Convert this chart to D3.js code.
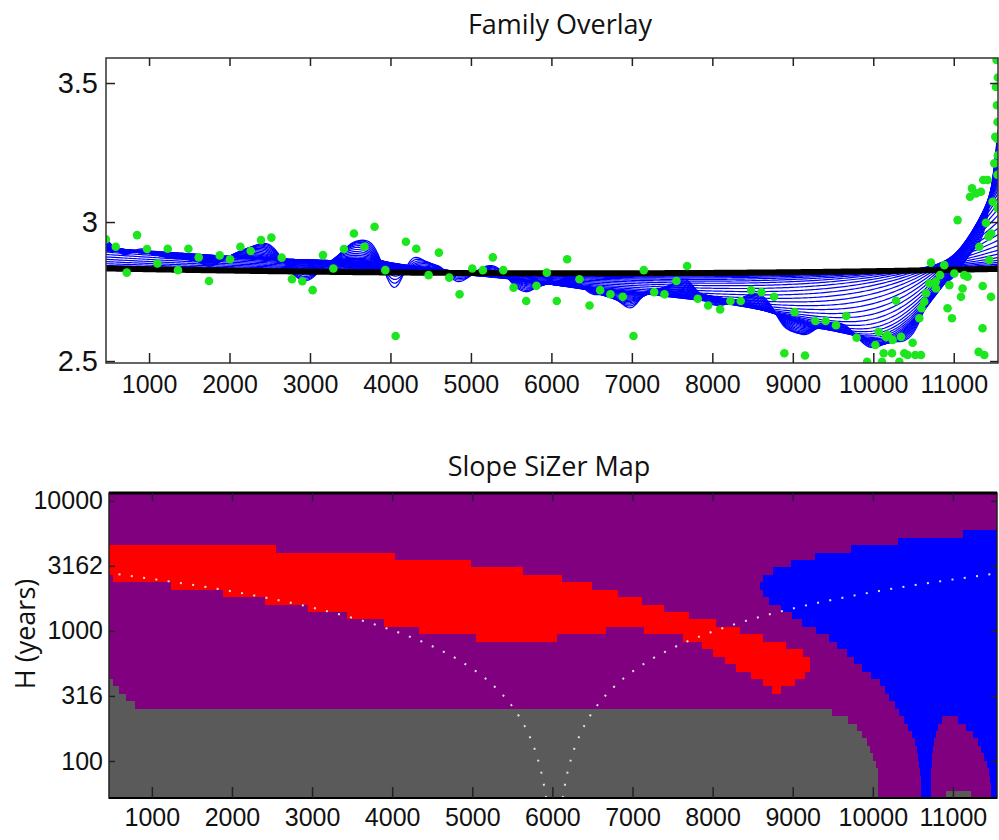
<!DOCTYPE html>
<html>
<head>
<meta charset="utf-8">
<script src="https://cdn.jsdelivr.net/npm/d3@7"></script>
<style>
body{margin:0;background:#fff;}
svg{display:block;font-family:"Open Sans","Noto Sans",sans-serif;}
</style>
</head>
<body>
<svg width="999" height="840"></svg>
<script>
// ---- data ----
const yearX=[463,586,723,851,975,1104,1232,1360,1489,1617,1745,1878,2006,2135,2263,2391,2520,2648,2776,2905,
 3033,3161,3290,3422,3546,3675,3803,3936,4064,4192,4321,4474,4602,4731,4859,5017,5148,5272,5402,5530,
 5687,5815,5943,6067,6196,6349,6474,6606,6734,6887,7020,7148,7277,7405,7554,7687,7819,7948,8097,8225,
 8353,8482,8610,8767,8895,9023,9152,9280,9408,9537,9665,9793,9923,10026,10067,10109,10129,10158,10178,10233,
 10241,10283,10324,10345,10386,10427,10489,10523,10572,10593,10599,10634,10655,10696,10717,10776,10779,10829,10882,10923,
 10945,10978,11007,11048,11090,11110,11131,11172,11202,11227,11276,11309,11317,11338,11358,11360,11367,11380,11400,11421,
 11433,11442,11463,11465,11483,11504,11516,11525,11532,11537,11540,11543,11546,11548,11544,11549];
const levelY=[2.938,2.911,2.818,2.953,2.903,2.851,2.904,2.827,2.904,2.873,2.788,2.880,2.866,2.911,2.896,2.935,2.944,2.872,2.794,2.787,
 2.755,2.881,2.833,2.903,2.959,2.911,2.983,2.827,2.590,2.929,2.904,2.809,2.890,2.800,2.740,2.833,2.827,2.873,2.827,2.764,
 2.716,2.771,2.818,2.716,2.866,2.794,2.700,2.755,2.740,2.731,2.590,2.827,2.748,2.740,2.788,2.842,2.724,2.700,2.686,2.716,
 2.716,2.755,2.748,2.731,2.528,2.676,2.520,2.644,2.644,2.629,2.662,2.584,2.497,2.558,2.605,2.497,2.528,2.587,2.594,2.528,
 2.576,2.717,2.497,2.587,2.528,2.522,2.566,2.522,2.654,2.522,2.690,2.713,2.744,2.779,2.854,2.785,2.761,2.809,2.845,2.690,
 2.773,2.654,2.815,3.007,2.731,2.761,2.809,2.803,3.091,3.121,3.103,2.533,2.911,3.109,2.618,2.770,3.151,2.522,2.997,3.151,
 2.947,2.863,2.731,2.959,3.073,3.211,3.307,3.486,3.583,3.42,3.30,3.17,3.05,3.52,3.36,3.24];

const xTicks=[1000,2000,3000,4000,5000,6000,7000,8000,9000,10000,11000];
const yTicks=[2.5,3,3.5];
const hTicks=[100,316.23,1000,3162.28,10000];
const hTickLabels=["100","316","1000","3162","10000"];

// bandwidth grids (smallest / largest h and count)
const familyH=[125,10750], familyCount=41;
const mapH=[55.5,10750], mapRows=41;

// SiZer map: [row (0 = largest h), from year, to year]
const redCells=[[7,465,2552],[8,465,4037],[9,465,4986],[10,465,5632],[11,517,6118],[12,1241,6497],
 [13,1886,6815],[14,2414,7117],[15,2948,7399],[16,3434,7701],[17,3900,8045],
 [18,4341,6671],[18,7146,8344],[19,5049,6056],[19,7629,8635],[20,7866,8920],[21,8011,9127],
 [22,8157,9218],[23,8294,9218],[24,8478,9156],[25,8635,9031],[26,8744,8856]];
const grayCells=[[25,465,521],[26,465,596],[27,465,679],[28,465,792],[29,465,9489],[30,465,9689],
 [31,465,9801],[32,465,9864],[33,465,9926],[34,465,9967],[35,465,10008],[36,465,10042],
 [37,465,10067],[38,465,10067],[39,465,10067],[40,465,10067],[40,10912,11228]];
const blueCells=[[5,11124,11550],[6,10308,11550],[7,9726,11550],[8,9272,11550],[9,8977,11550],
 [10,8748,11550],[11,8635,11550],[12,8594,11550],[13,8635,11550],[14,8706,11550],[15,8856,11550],
 [16,8990,11550],[17,9122,11550],[18,9289,11550],[19,9447,11550],[20,9552,11550],[21,9676,11550],
 [22,9759,11550],[23,9864,11550],[24,9976,11550],[25,10092,11550],[26,10154,11550],[27,10208,11550],
 [28,10279,11550],[29,10329,11550],
 [30,10392,10866],[30,11062,11550],[31,10445,10812],[31,11162,11550],[32,10488,10787],[32,11253,11550],
 [33,10529,10766],[33,11312,11550],[34,10550,10754],[34,11353,11550],[35,10566,10741],[35,11390,11550],
 [36,10579,10738],[36,11424,11550],[37,10590,10729],[37,11444,11550],[38,10598,10729],[38,11461,11550],
 [39,10598,10729],[39,11469,11550],[40,10598,10729],[40,11478,11550]];
const windowCentre=6025;

const svg=d3.select("svg");
const xDom=[465,11550];

// ---------- top panel ----------
const pA={l:106,r:998,t:58,b:363};
const x1=d3.scaleLinear().domain(xDom).range([pA.l,pA.r]);
const y1=d3.scaleLinear().domain([2.493,3.59]).range([pA.b,pA.t]);

svg.append("clipPath").attr("id","c1").append("rect")
  .attr("x",pA.l).attr("y",pA.t).attr("width",pA.r-pA.l).attr("height",pA.b-pA.t);

function smooth(x0,h){
  let s0=0,s1=0,s2=0,t0=0,t1=0;
  for(let i=0;i<yearX.length;i++){
    const d=yearX[i]-x0, w=Math.exp(-0.5*(d/h)*(d/h));
    s0+=w; s1+=w*d; s2+=w*d*d; t0+=w*levelY[i]; t1+=w*d*levelY[i];
  }
  const den=s0*s2-s1*s1;
  if(den<=1e-9*s0*s2) return t0/s0;
  return (s2*t0-s1*t1)/den;
}
const hs=d3.range(familyCount).map(i=>Math.exp(Math.log(familyH[0])+i*(Math.log(familyH[1])-Math.log(familyH[0]))/(familyCount-1)));
const grid=d3.range(0,401).map(i=>xDom[0]+i*(xDom[1]-xDom[0])/400);
const curves=hs.map(h=>grid.map(g=>[g,smooth(g,h)]));
const line=d3.line().x(d=>x1(d[0])).y(d=>y1(d[1]));

const g1=svg.append("g").attr("clip-path","url(#c1)");
g1.selectAll("path.fam").data(curves.slice(0,-1)).enter().append("path")
  .attr("class","fam").attr("d",line).attr("fill","none").attr("stroke","#0000ff").attr("stroke-width",1.2);
g1.append("path").attr("d",line(curves[curves.length-1])).attr("fill","none").attr("stroke","#000").attr("stroke-width",6);
g1.selectAll("circle").data(yearX).enter().append("circle")
  .attr("cx",d=>x1(d)).attr("cy",(d,i)=>y1(levelY[i])).attr("r",4.3).attr("fill","#1ee61e");

function frame(sel,s,col,w){
  sel.append("rect").attr("x",s.l).attr("y",s.t).attr("width",s.r-s.l).attr("height",s.b-s.t)
    .attr("fill","none").attr("stroke",col).attr("stroke-width",w);
}
function styleAxis(a,fs){
  a.select(".domain").remove();
  a.selectAll(".tick line").attr("stroke","#222").attr("stroke-width",1.5);
  a.selectAll("text").attr("fill","#111").style("font-size",fs+"px");
}

frame(svg,pA,"#333",1.5);
styleAxis(svg.append("g").attr("transform","translate(0,"+pA.b+")")
  .call(d3.axisBottom(x1).tickValues(xTicks).tickSize(-10).tickPadding(12).tickFormat(d3.format("d"))),25);
styleAxis(svg.append("g").attr("transform","translate(0,"+pA.t+")")
  .call(d3.axisTop(x1).tickValues(xTicks).tickSize(-8).tickFormat("")),25);
styleAxis(svg.append("g").attr("transform","translate("+pA.l+",0)")
  .call(d3.axisLeft(y1).tickValues(yTicks).tickSize(-9).tickPadding(8).tickFormat(d=>String(d))),29);
styleAxis(svg.append("g").attr("transform","translate("+pA.r+",0)")
  .call(d3.axisRight(y1).tickValues(yTicks).tickSize(-8).tickFormat("")),25);

svg.append("text").attr("x",560).attr("y",34).attr("text-anchor","middle")
  .style("font-size","27px").attr("fill","#111").text("Family Overlay");

// ---------- bottom panel ----------
const pB={l:109,r:997,t:493,b:798};
const x2=d3.scaleLinear().domain(xDom).range([pB.l,pB.r]);
const lstep=(Math.log10(mapH[1])-Math.log10(mapH[0]))/(mapRows-1);
const hEdge=k=>Math.pow(10,Math.log10(mapH[1])+lstep/2-k*lstep);
const y2=d3.scaleLog().domain([hEdge(mapRows),hEdge(0)]).range([pB.b,pB.t]);

svg.append("clipPath").attr("id","c2").append("rect")
  .attr("x",pB.l).attr("y",pB.t).attr("width",pB.r-pB.l).attr("height",pB.b-pB.t);
const g2=svg.append("g").attr("clip-path","url(#c2)").attr("shape-rendering","crispEdges");
g2.append("rect").attr("x",pB.l).attr("y",pB.t).attr("width",pB.r-pB.l).attr("height",pB.b-pB.t).attr("fill","#800080");

function cells(data,col){
  g2.append("g").selectAll("rect").data(data).enter().append("rect")
    .attr("x",d=>x2(d[1])).attr("width",d=>x2(d[2])-x2(d[1]))
    .attr("y",d=>y2(hEdge(d[0]))).attr("height",d=>y2(hEdge(d[0]+1))-y2(hEdge(d[0])))
    .attr("fill",col);
}
cells(grayCells,"#5a5a5a");
cells(redCells,"#ff0000");
cells(blueCells,"#0000ff");

// +/- 2h window guide
const hGuide=d3.range(0,301).map(i=>Math.pow(10,Math.log10(hEdge(mapRows))+i*(Math.log10(hEdge(0))-Math.log10(hEdge(mapRows)))/300));
const gLine=d3.line().x(d=>x2(d[0])).y(d=>y2(d[1]));
[-2,2].forEach(s=>{
  g2.append("path").attr("d",gLine(hGuide.map(h=>[windowCentre+s*h,h])))
    .attr("fill","none").attr("stroke","#e0e0e0").attr("stroke-width",2)
    .attr("stroke-dasharray","2,10.4").attr("shape-rendering","auto");
});

frame(svg,pB,"#222",1.5);
svg.append("line").attr("x1",pB.l).attr("x2",pB.r).attr("y1",pB.t).attr("y2",pB.t).attr("stroke","#000").attr("stroke-width",3);
svg.append("line").attr("x1",pB.l).attr("x2",pB.r).attr("y1",pB.b).attr("y2",pB.b).attr("stroke","#000").attr("stroke-width",2);
styleAxis(svg.append("g").attr("transform","translate(0,"+pB.b+")")
  .call(d3.axisBottom(x2).tickValues(xTicks).tickSize(-11).tickPadding(10).tickFormat(d3.format("d"))),25);
styleAxis(svg.append("g").attr("transform","translate(0,"+pB.t+")")
  .call(d3.axisTop(x2).tickValues(xTicks).tickSize(-8).tickFormat("")),25);
styleAxis(svg.append("g").attr("transform","translate("+pB.l+",0)")
  .call(d3.axisLeft(y2).tickValues(hTicks).tickSize(-6).tickPadding(6).tickFormat((d,i)=>hTickLabels[i])),25);
styleAxis(svg.append("g").attr("transform","translate("+pB.r+",0)")
  .call(d3.axisRight(y2).tickValues(hTicks).tickSize(-6).tickFormat("")),24);

svg.append("text").attr("x",549).attr("y",476).attr("text-anchor","middle")
  .style("font-size","27px").attr("fill","#111").text("Slope SiZer Map");
svg.append("text").attr("transform","translate(35,634) rotate(-90)").attr("text-anchor","middle")
  .style("font-size","27px").attr("fill","#111").text("H (years)");
</script>
</body>
</html>
